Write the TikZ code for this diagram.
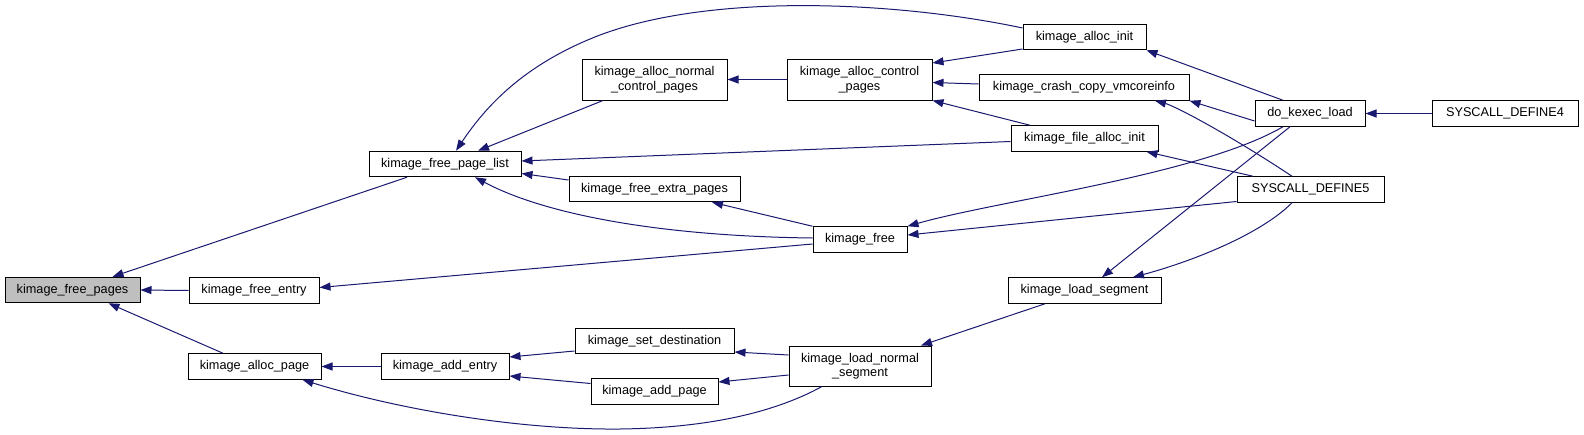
\documentclass[tikz,border=0pt]{standalone}
\usepackage{fontspec}
\setmainfont{Liberation Sans}
\usetikzlibrary{arrows.meta}
\definecolor{edgeblue}{HTML}{191970}
\definecolor{boxgray}{HTML}{BFBFBF}
\begin{document}
\begin{tikzpicture}[x=1pt,y=-1pt,
  fn/.style={draw=black, line width=1pt, fill=white, inner sep=0pt, minimum height=25.5pt, align=center, font=\fontsize{12.7}{14.5}\selectfont},
  call/.style={draw=edgeblue, line width=1pt, {Triangle[length=11pt,width=8pt]}-}
]
\useasboundingbox (0,0) rectangle (1584,434);

% nodes
\node[fn, fill=boxgray, minimum width=135pt] (fpages) at (72.5,290) {kimage\_free\_pages};
\node[fn, minimum width=130pt] (fentry) at (254,290.5) {kimage\_free\_entry};
\node[fn, minimum width=133pt] (apage) at (254.5,366.5) {kimage\_alloc\_page};
\node[fn, minimum width=152pt] (fplist) at (445,164) {kimage\_free\_page\_list};
\node[fn, minimum width=128pt] (aentry) at (445,366.5) {kimage\_add\_entry};
\node[fn, minimum width=145pt, minimum height=41pt] (nctrl) at (654.5,79.5) {kimage\_alloc\_normal\\\_control\_pages};
\node[fn, minimum width=171pt] (fextra) at (654.5,189) {kimage\_free\_extra\_pages};
\node[fn, minimum width=159pt] (sdest) at (654.5,341) {kimage\_set\_destination};
\node[fn, minimum width=127pt] (addpage) at (654.5,391.5) {kimage\_add\_page};
\node[fn, minimum width=145pt, minimum height=41pt] (actrl) at (859.5,79.5) {kimage\_alloc\_control\\\_pages};
\node[fn, minimum width=94pt] (kfree) at (860,239.5) {kimage\_free};
\node[fn, minimum width=142pt, minimum height=40pt] (lnseg) at (860,366) {kimage\_load\_normal\\\_segment};
\node[fn, minimum width=123pt] (ainit) at (1084.5,37) {kimage\_alloc\_init};
\node[fn, minimum width=210pt] (crash) at (1084,87.5) {kimage\_crash\_copy\_vmcoreinfo};
\node[fn, minimum width=147pt] (falloc) at (1084.5,138.5) {kimage\_file\_alloc\_init};
\node[fn, minimum width=153pt] (lseg) at (1084.5,290.5) {kimage\_load\_segment};
\node[fn, minimum width=110pt] (dkl) at (1310,113.5) {do\_kexec\_load};
\node[fn, minimum width=147pt] (sfive) at (1310.5,189.5) {SYSCALL\_DEFINE5};
\node[fn, minimum width=146pt] (sfour) at (1505,113.5) {SYSCALL\_DEFINE4};

% edges (arrow tip at the callee)
\draw[call] ([xshift=40pt]fpages.north) -- ([xshift=-38pt]fplist.south);
\draw[call] (fpages.east) -- (fentry.west);
\draw[call] ([xshift=36pt]fpages.south) -- ([xshift=-31.5pt]apage.north);
\draw[call] ([xshift=11pt]fplist.north) .. controls (490,100) and (530,62) .. (600,35)
   .. controls (715,-8) and (900,2) .. ([yshift=9pt]ainit.west);
\draw[call] ([xshift=33pt]fplist.north) -- ([xshift=-51.5pt]nctrl.south);
\draw[call] ([yshift=3pt]fplist.east) -- ([yshift=-3pt]falloc.west);
\draw[call] ([yshift=-9.5pt]fplist.east) -- ([yshift=9pt]fextra.west);
\draw[call] ([xshift=30pt]fplist.south) .. controls (540,212) and (650,236) .. ([yshift=1.5pt]kfree.west);
\draw[call] (nctrl.east) -- (actrl.west);
\draw[call] ([yshift=16.5pt]actrl.east) -- ([yshift=-12pt]ainit.west);
\draw[call] ([yshift=-3pt]actrl.east) -- ([yshift=3.5pt]crash.west);
\draw[call] (actrl.south east) -- ([xshift=-54.5pt]falloc.north);
\draw[call] (ainit.south east) -- ([xshift=-27pt]dkl.north);
\draw[call] (crash.south east) -- ([yshift=-7.5pt]dkl.west);
\draw[call] ([xshift=71pt]crash.south) .. controls (1175,106) and (1230,135) .. ([xshift=-18.5pt]sfive.north);
\draw[call] ([xshift=62pt]falloc.south) -- ([xshift=-57.5pt]sfive.north);
\draw[call] (dkl.east) -- (sfour.west);
\draw[call] ([xshift=57.5pt]fextra.south) -- (kfree.north west);
\draw[call] (kfree.north east) .. controls (1000,200) and (1200,175) .. ([xshift=-27pt]dkl.south);
\draw[call] ([yshift=4.5pt]kfree.east) -- ([yshift=-12pt]sfive.west);
\draw[call] ([yshift=3pt]fentry.east) -- ([yshift=-4.5pt]kfree.west);
\draw[call] ([xshift=17.5pt]lseg.north) -- ([xshift=-20pt]dkl.south);
\draw[call] ([xshift=48.5pt]lseg.north) .. controls (1190,262) and (1260,235) .. ([xshift=-18.5pt]sfive.south);
\draw[call] ([xshift=61pt]lnseg.north) -- ([xshift=-39.5pt]lseg.south);
\draw[call] (apage.east) -- (aentry.west);
\draw[call] ([yshift=9.5pt]aentry.east) -- ([yshift=-10pt]sdest.west);
\draw[call] ([yshift=-9.5pt]aentry.east) -- ([yshift=8pt]addpage.west);
\draw[call] ([yshift=-11pt]sdest.east) -- ([yshift=11pt]lnseg.west);
\draw[call] ([yshift=9.5pt]addpage.east) -- ([yshift=-9pt]lnseg.west);
\draw[call] ([xshift=48pt]apage.south) .. controls (400,410) and (520,430) .. (620,429)
   .. controls (700,428) and (770,415) .. ([xshift=-38pt]lnseg.south);
\end{tikzpicture}
\end{document}
